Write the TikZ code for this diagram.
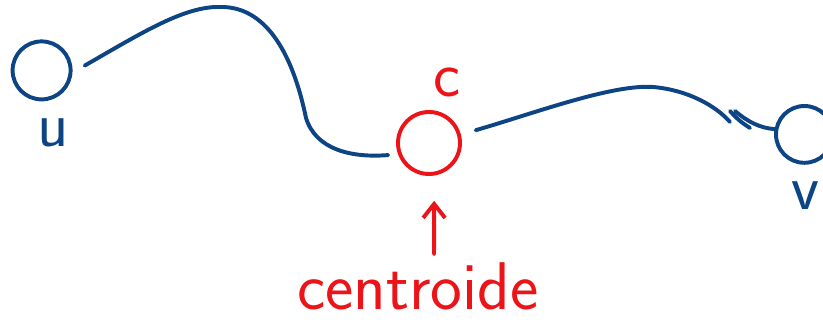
\documentclass[tikz,border=0pt]{standalone}
\usetikzlibrary{arrows.meta}
\definecolor{penblue}{RGB}{12,68,132}
\definecolor{penred}{RGB}{235,20,25}
\begin{document}
\begin{tikzpicture}[>=Latex,line cap=round,font=\sffamily\fontsize{46}{46}\selectfont,
  bluepen/.style={draw=penblue,line width=2.8pt},redpen/.style={draw=penred,line width=2.8pt},
  vertex/.style={circle,inner sep=0pt,minimum size=#1},lbl/.style={inner sep=0pt}]
\useasboundingbox (0,0) rectangle (20.575,8.05);
% the three vertices
\node[vertex=1.45cm,bluepen] (u) at (1.04,6.29){}; \node[lbl,text=penblue] (ulbl) at (1.325,4.725){u};
\node[vertex=1.55cm,redpen] (c) at (10.725,4.475){}; \node[lbl,text=penred] (clbl) at (11.175,6.0){c};
\node[vertex=1.42cm,bluepen] (v) at (20.11,4.69){}; \node[lbl,text=penblue] (vlbl) at (20.13,3.15){v};
\node[lbl,text=penred,font=\sffamily\fontsize{48}{48}\selectfont] (centroid) at (10.45,0.9){centroide};
% path u -- c -- v
\draw[bluepen,shorten <=10pt,shorten >=7pt] (u.-4) .. controls (3.5,7.2) and (4.6,7.9) .. (5.5,7.875) .. controls (6.6,7.9) and (7.3,6.8) .. (7.65,5.1) .. controls (7.9,4.3) and (8.8,4.1) .. (c.200);
\coordinate (k1) at (18.25,5.0); \coordinate (k2) at (18.25,5.275); \coordinate (k3) at (18.75,4.85); \coordinate (k4) at (18.375,5.275);
\draw[bluepen,shorten <=11pt] (c.15) .. controls (13.3,5.2) and (15.3,5.95) .. (16.325,5.875) .. controls (17.2,5.8) and (17.9,5.4) .. (k1);
\draw[bluepen] (k2) to[bend right=8] (k3);
\draw[bluepen] (k4) .. controls (18.7,5.0) and (19.0,4.85) .. (v.170);
% pointer to the centroid
\draw[redpen,-{Straight Barb[length=0.35cm,width=0.55cm]},shorten <=0.2cm,shorten >=0.62cm] ([xshift=0.4cm]centroid.north) -- ([xshift=0.13cm]c.south);
\end{tikzpicture}
\end{document}
